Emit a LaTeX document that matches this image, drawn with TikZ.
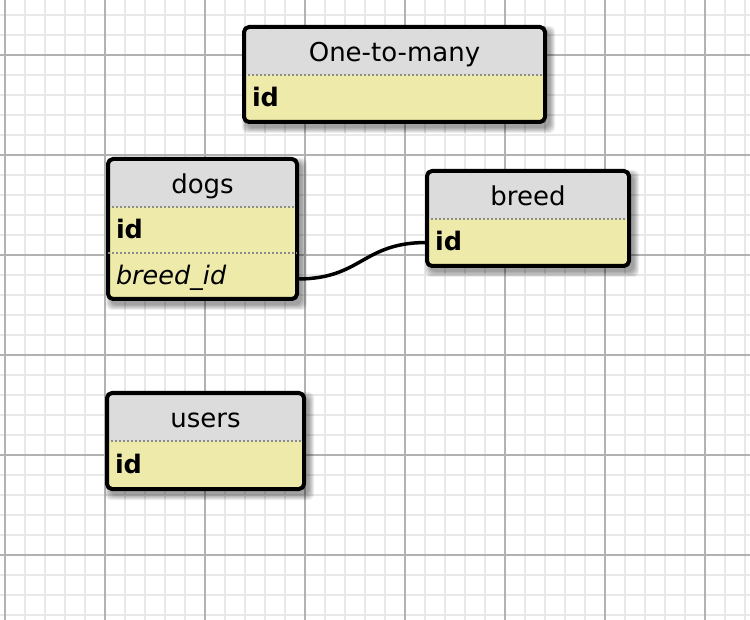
\documentclass[tikz,border=0pt]{standalone}
\usepackage{fontspec}
\setmainfont{DejaVu Sans}
\definecolor{hdrgray}{HTML}{DCDCDC}
\definecolor{rowyellow}{HTML}{EEEBAA}
\tikzset{
  hdr/.style={inner sep=0pt, text height=23pt, text depth=2pt, font=\fontsize{26}{30}\selectfont},
  fld/.style={inner ysep=0pt, inner xsep=8pt, text height=20pt, text depth=3pt, align=left, font=\fontsize{25.5}{30}\selectfont},
  sep/.style={black!45, line width=1.5pt, dash pattern=on 2pt off 2pt, line cap=butt}
}
\begin{document}
\begin{tikzpicture}[x=1pt, y=-1pt, line join=round, line cap=round]
\useasboundingbox (0,0) rectangle (750,620);
\fill[white] (0,0) rectangle (750,620);
% grid
\foreach \x in {5,25,...,745} \draw[black!9, line width=1.5pt] (\x,0)--(\x,620);
\foreach \y in {15,35,...,615} \draw[black!9, line width=1.5pt] (0,\y)--(750,\y);
\foreach \x in {5,105,...,705} \draw[black!30, line width=1.5pt] (\x,0)--(\x,620);
\foreach \y in {55,155,...,555} \draw[black!30, line width=1.5pt] (0,\y)--(750,\y);
% tables: box, shadow, header
\foreach \xa/\ya/\xb/\yb/\yh in {244/27/545/122/75, 108/159/297/299/207, 427/171/629/266/219, 107/393/304/489/441}{
  \foreach \e in {1,...,6} \fill[black, opacity=0.07, rounded corners=6] (\xa+4-\e,\ya+5-\e) rectangle (\xb+4+\e,\yb+5+\e);
  \begin{scope}
    \clip[rounded corners=5] (\xa,\ya) rectangle (\xb,\yb);
    \fill[rowyellow] (\xa,\ya) rectangle (\xb,\yb);
    \fill[hdrgray] (\xa,\ya) rectangle (\xb,\yh);
  \end{scope}
  \draw[sep] (\xa,\yh)--(\xb,\yh);
  \draw[line width=4pt, rounded corners=5] (\xa,\ya) rectangle (\xb,\yb);
}
\draw[sep] (108,253)--(297,253);
% texts
\node[hdr] (otm) at (394.5,51) {One-to-many};
\node[fld, text width=285pt] (otm-id) at (394.5,98.5) {\textbf{id}};
\node[hdr] (dogs) at (202.5,183) {dogs};
\node[fld, text width=173pt] (dogs-id) at (202.5,230) {\textbf{id}};
\node[fld, text width=173pt] (dogs-bid) at (202.5,276) {\textit{breed\_id}};
\node[hdr] (breed) at (528,195) {breed};
\node[fld, text width=186pt] (breed-id) at (528,242.5) {\textbf{id}};
\node[hdr] (users) at (205.5,417) {users};
\node[fld, text width=181pt] (users-id) at (205.5,465) {\textbf{id}};
% link
\draw[line width=3.5pt] ([yshift=-3pt]dogs-bid.east) .. controls +(65,0) and +(-65,0) .. (breed-id.west);
\end{tikzpicture}
\end{document}
